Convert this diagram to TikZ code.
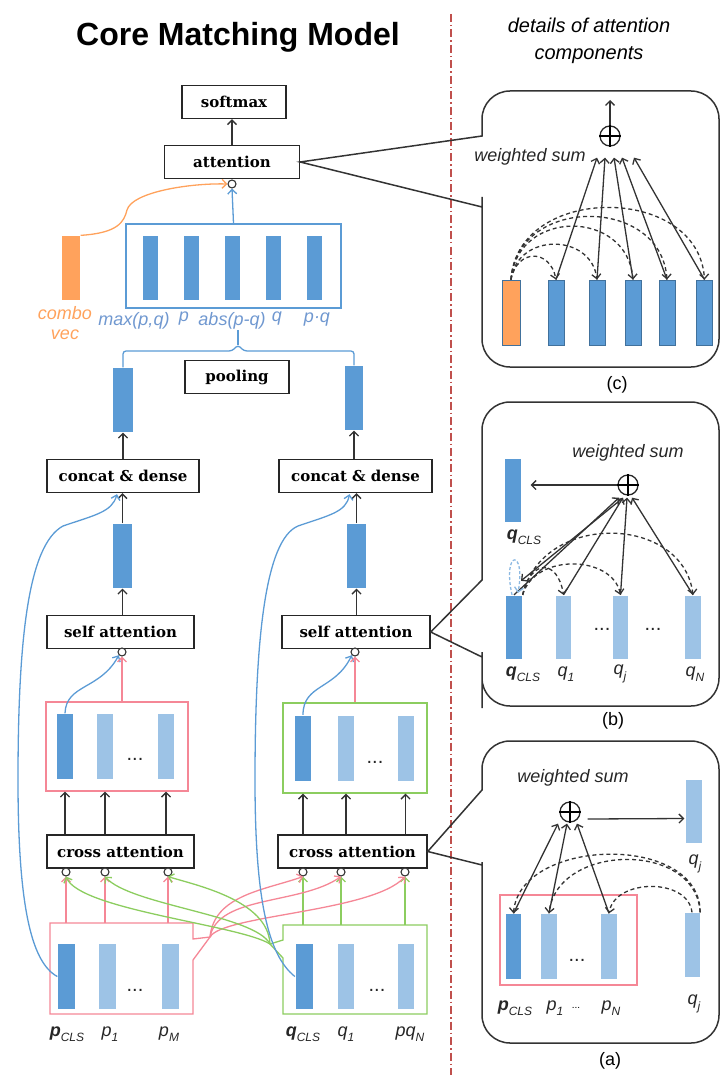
\documentclass[tikz,border=0pt]{standalone}
\usepackage{fontspec}
\newfontfamily\arial{Liberation Sans}
\newfontfamily\boxserif{DejaVu Serif}
\usetikzlibrary{positioning,calc,arrows.meta}

\definecolor{barblue}{RGB}{91,155,213}
\definecolor{barlight}{RGB}{157,195,230}
\definecolor{barline}{RGB}{65,113,156}
\definecolor{combo}{RGB}{255,162,92}
\definecolor{pinkline}{RGB}{245,135,150}
\definecolor{greenline}{RGB}{140,205,95}
\definecolor{blueline}{RGB}{91,155,213}
\definecolor{bluetext}{RGB}{112,152,208}
\definecolor{divider}{RGB}{192,80,77}

\newcommand{\lblfont}{\arial\itshape\fontsize{18}{20}\selectfont}
\newcommand{\subtxt}[1]{\raisebox{-0.3em}{\fontsize{12}{12}\selectfont #1}}

\begin{document}
\begin{tikzpicture}[x=1pt, y=-1pt, line width=1.3pt,
    >={Straight Barb[length=4.5pt,width=9pt]}]
  \tikzstyle{opbox}=[draw=black!85, line width=1.4pt, fill=white,
    minimum height=33pt, inner sep=0pt, font=\boxserif\bfseries\fontsize{15}{17}\selectfont]
  \tikzstyle{vecbar}=[fill=barblue, minimum width=17pt, minimum height=64pt, inner sep=0pt]
  \tikzstyle{lightbar}=[vecbar, fill=barlight]
  \tikzstyle{hub}=[circle, draw=black!80, fill=white, line width=1.1pt,
    minimum size=8pt, inner sep=0pt]
  \tikzstyle{sumnode}=[circle, draw=black!85, minimum size=20pt, inner sep=0pt]
  \tikzstyle{bubble}=[draw=black!80, line width=1.5pt]
  \tikzstyle{arr}=[->, black!80]
  \tikzstyle{darr}=[->, black!80, dash pattern=on 4pt off 3pt]
  \tikzstyle{lbl}=[font=\lblfont, text=black!85]
  \tikzstyle{dots}=[font=\arial\fontsize{20}{20}\selectfont, text=black!85]

  \useasboundingbox (0,0) rectangle (722,1075);

  % titles
  \node[font=\arial\bfseries\fontsize{32}{36}\selectfont, anchor=base] (title)
    at (238,46) {Core Matching Model};
  \node[font=\arial\itshape\fontsize{20}{27}\selectfont, align=center] (dtitle)
    at (589,41) {details of attention\\components};

  % divider
  \draw[divider, line width=1.4pt, dash pattern=on 8pt off 3pt on 1.5pt off 3pt]
    (451,14) -- (451,1075);

  % softmax and attention
  \node[opbox, minimum width=104pt] (soft) at (234,102) {softmax};
  \node[opbox, minimum width=135pt] (att) at (232,162) {attention};
  \node[hub] (atthub) at (232,184) {};
  \draw[arr] (att.north) -- (att.north |- soft.south);

  % feature vectors
  \node[draw=blueline, minimum width=215pt, minimum height=84pt, inner sep=0pt] (feat)
    at (233.5,266) {};
  \foreach \x/\n in {150/1,191/2,232/3,273/4,314/5}
    \node[vecbar, minimum width=15pt] (f\n) at (\x,268) {};
  \begin{scope}[every node/.style={font=\lblfont, text=bluetext}]
    \node (lmax) at (134,321) {max(p,q)};
    \node (lp) at (184,319) {p};
    \node (labs) at (232,321) {abs(p-q)};
    \node (lq) at (277,319) {q};
    \node (lpq) at (317,320) {p·q};
  \end{scope}
  \node[vecbar, fill=combo, minimum width=18pt] (cvec) at (71,268) {};
  \node[font=\lblfont, text=combo, align=center] (cvlab) at (65,323) {combo\\vec};
  \draw[->, blueline] (feat.north) -- (atthub.south);
  \draw[->, combo] (cvec.north east) .. controls (118,233) and (124,222) .. (127,210)
    .. controls (132,192) and (190,183) .. (atthub.west);

  % pooling
  \node[vecbar, minimum width=20pt] (pvec) at (123,400) {};
  \node[vecbar, minimum width=18pt] (qvec) at (354,398) {};
  \node[opbox, minimum width=104pt] (pool) at (237,377) {pooling};
  \draw[blueline, rounded corners=3pt] (pvec.north) |- (232,351) -- (238,345)
    -- (244,351) -| (qvec.north);
  \draw[blueline] (238,345) -- (238,330);

  % concat & dense
  \node[opbox, minimum width=152pt] (pcat) at (123,476) {concat \& dense};
  \node[opbox, minimum width=153pt] (qcat) at (355.5,476) {concat \& dense};
  \draw[arr] (pcat.north) -- (pvec.south);
  \draw[arr] (qvec.south |- qcat.north) -- (qvec.south);
  \node[vecbar, minimum width=19pt] (pmid) at (122.5,556) {};
  \node[vecbar, minimum width=19pt] (qmid) at (356.5,556) {};
  \draw[arr] (pmid.north) -- (pmid.north |- pcat.south);
  \draw[arr] (qmid.north) -- (qmid.north |- qcat.south);

  % self attention
  \node[opbox, minimum width=147pt] (psa) at (120.5,632) {self attention};
  \node[opbox, minimum width=148pt] (qsa) at (356,632) {self attention};
  \draw[arr] (pmid.south |- psa.north) -- (pmid.south);
  \draw[arr] (qmid.south |- qsa.north) -- (qmid.south);
  \node[hub] (psahub) at (122,652) {};
  \node[hub] (qsahub) at (355,652) {};

  % attended vectors
  \node[draw=pinkline, minimum width=142pt, minimum height=89pt, inner sep=0pt] (ppan)
    at (117,746.5) {};
  \node[vecbar, minimum width=16pt, minimum height=65pt] (pc) at (65,746.5) {};
  \node[lightbar, minimum width=16pt, minimum height=65pt] (pa) at (105,746.5) {};
  \node[lightbar, minimum width=16pt, minimum height=65pt] (pb) at (166,746.5) {};
  \node[dots] (pdots) at (135,759) {...};
  \node[draw=greenline, minimum width=144pt, minimum height=90pt, inner sep=0pt] (qpan)
    at (355,748) {};
  \node[vecbar, minimum width=16pt, minimum height=65pt] (qc) at (303,748) {};
  \node[lightbar, minimum width=16pt, minimum height=65pt] (qa) at (346,748) {};
  \node[lightbar, minimum width=16pt, minimum height=65pt] (qb) at (405.5,748) {};
  \node[dots] (qdots) at (375,762) {...};
  \draw[->, blueline] (pc.north) .. controls (66,684) and (100,690) .. (psahub.south west);
  \draw[->, pinkline] (ppan.north -| psahub) -- (psahub.south);
  \draw[->, blueline] (qc.north) .. controls (303,684) and (335,690) .. (qsahub.south west);
  \draw[->, pinkline] (qpan.north -| qsahub) -- (qsahub.south);

  % cross attention
  \node[opbox, minimum width=147pt] (pca) at (120.5,851.5) {cross attention};
  \node[opbox, minimum width=149pt] (qca) at (352.5,851.5) {cross attention};
  \foreach \n in {c,a,b} {
    \draw[arr] (pca.north -| p\n) -- (ppan.south -| p\n);
    \draw[arr] (qca.north -| q\n) -- (qpan.south -| q\n);
  }
  \foreach \x/\n in {66/1,105/2,168/3}
    \node[hub] (ph\n) at (\x,872) {};
  \foreach \x/\n in {303/1,341/2,405/3}
    \node[hub] (qh\n) at (\x,872) {};

  % input vectors
  \coordinate (ptip) at (210,937);
  \coordinate (qtip) at (270,944);
  \coordinate (ptop) at (0,923);
  \coordinate (qtop) at (0,925);
  \draw[pinkline] (50,923) -- (193,923) -- (193,939) -- (ptip) -- (193,960)
    -- (193,1014) -- (50,1014) -- cycle;
  \draw[greenline] (283,925) -- (427,925) -- (427,1014) -- (283,1014) -- (283,958)
    -- (qtip) -- (283,940) -- cycle;
  \node[vecbar, minimum width=17pt, minimum height=65pt] (pcls) at (66.5,976.5) {};
  \node[lightbar, minimum width=17pt, minimum height=65pt] (p1) at (107.5,976.5) {};
  \node[lightbar, minimum width=17pt, minimum height=65pt] (pM) at (170,976.5) {};
  \node[dots] (pidots) at (135,990) {...};
  \node[vecbar, minimum width=17pt, minimum height=65pt] (qcls) at (304,976.5) {};
  \node[lightbar, minimum width=16pt, minimum height=65pt] (q1) at (346,976.5) {};
  \node[lightbar, minimum width=16pt, minimum height=65pt] (qN) at (405.5,976.5) {};
  \node[dots] (qidots) at (377,990) {...};
  \node[lbl] (lpcls) at (67,1034) {\textbf{p}\subtxt{CLS}};
  \node[lbl] (lp1) at (110,1034) {p\subtxt{1}};
  \node[lbl] (lpM) at (169,1034) {p\subtxt{M}};
  \node[lbl] (lqcls) at (303,1034) {\textbf{q}\subtxt{CLS}};
  \node[lbl] (lq1) at (346,1034) {q\subtxt{1}};
  \node[lbl] (lqN) at (410,1034) {pq\subtxt{N}};

  % cross connections
  \foreach \n in {1,2,3} {
    \draw[->, pinkline] (ph\n |- ptop) -- (ph\n.south);
    \draw[->, greenline] (qh\n |- qtop) -- (qh\n.south);
  }
  \draw[->, pinkline] (ptip) .. controls (214,895) and (265,890) .. (qh1.south);
  \draw[->, pinkline] (ptip) .. controls (218,895) and (300,905) .. (qh2.south);
  \draw[->, pinkline] (ptip) .. controls (222,915) and (372,912) .. (qh3.south);
  \draw[->, greenline] (qtip) .. controls (268,900) and (195,885) .. (ph3.south);
  \draw[->, greenline] (qtip) .. controls (255,915) and (130,905) .. (ph2.south);
  \draw[->, greenline] (qtip) .. controls (240,925) and (80,910) .. (ph1.south);

  % skip connections
  \draw[->, blueline] (pcls.west) .. controls (30,962) and (18,900) .. (18,780)
    .. controls (18,640) and (28,545) .. (63,526)
    .. controls (95,515) and (112,512) .. ($(pcat.south)+(-6,1)$);
  \draw[->, blueline] (qcls.west) .. controls (268,955) and (255,900) .. (255,780)
    .. controls (255,640) and (265,540) .. (298,526)
    .. controls (330,515) and (346,512) .. ($(qcat.south)+(-6,1)$);

  % detail (c)
  \draw[bubble] (att.east) -- (482,136) -- (482,120) [rounded corners=28pt] -- (482,91)
    -- (719,91) -- (719,367) -- (482,367) -- (482,225) [sharp corners] -- (482,207) -- cycle;
  \node[sumnode] (csum) at (610,136) {};
  \draw (csum.north) -- (csum.south) (csum.west) -- (csum.east);
  \coordinate (cout) at (610,100);
  \draw[arr] (csum.north) -- (cout);
  \node[lbl] (cws) at (530,157) {weighted sum};
  \node[vecbar, fill=combo, draw=barline, line width=0.8pt, minimum width=18pt,
    minimum height=65pt] (cv0) at (511,312.5) {};
  \foreach \x/\i in {556/1,597/2,633/3,667/4,704.5/5}
    \node[vecbar, draw=barline, line width=0.8pt, minimum width=16pt,
      minimum height=65pt] (cv\i) at (\x,312.5) {};
  \foreach \i/\dx in {1/-13,2/-5,3/4,4/12,5/24}
    \draw[arr] (cv\i.north) -- ($(csum.south)+(\dx,11)$);
  \foreach \i/\h in {1/31,2/47,3/71,4/84,5/96}
    \draw[darr] (cv0.north) .. controls +(6,-\h) and +(-6,-\h) .. (cv\i.north);
  \node[font=\arial\fontsize{18}{20}\selectfont] (clab) at (617,385) {(c)};

  % detail (b)
  \draw[bubble] (qsa.east) -- (482,580) -- (482,560) [rounded corners=28pt] -- (482,402)
    -- (719,402) -- (719,706) -- (482,706) -- (482,680) [sharp corners] -- (482,657) -- cycle;
  \node[vecbar, minimum width=16pt, minimum height=63pt] (bq) at (513,490.5) {};
  \node[lbl] (lbq) at (524,537) {\textbf{q}\subtxt{CLS}};
  \node[sumnode] (bsum) at (628,485) {};
  \draw (bsum.north) -- (bsum.south) (bsum.west) -- (bsum.east);
  \node[lbl] (bws) at (628,453) {weighted sum};
  \draw[arr] (bsum.west) -- ($(bq.east |- bsum.west)+(9,0)$);
  \node[vecbar, minimum width=16pt, minimum height=63pt] (b0) at (514,627) {};
  \node[lightbar, minimum width=15pt, minimum height=63pt] (b1) at (563.5,627) {};
  \node[lightbar, minimum width=15pt, minimum height=63pt] (bj) at (620.5,627) {};
  \node[lightbar, minimum width=16pt, minimum height=63pt] (bN) at (693,627) {};
  \node[dots] (bdots1) at (602,629) {...};
  \node[dots] (bdots2) at (653,629) {...};
  \node[lbl] (lb0) at (523,674) {\textbf{q}\subtxt{CLS}};
  \node[lbl] (lb1) at (566,674) {q\subtxt{1}};
  \node[lbl] (lbj) at (620,674) {q\subtxt{j}};
  \node[lbl] (lbN) at (695,674) {q\subtxt{N}};
  \foreach \n/\dx in {0/-9,1/-5,j/-1,N/4}
    \draw[arr] (b\n.north) -- ($(bsum.south)+(\dx,2)$);
  \draw[arr] ($(bsum.south)+(-6,3)$) -- ($(b0.north)+(7,-14)$);
  \draw[darr] (b0.north east) .. controls +(8,-36) and +(-6,-36) .. (b1.north);
  \draw[darr] (b0.north east) .. controls +(12,-42) and +(-8,-40) .. (bj.north);
  \draw[darr] (b0.north east) .. controls +(20,-84) and +(-10,-80) .. (bN.north);
  \draw[->, blueline!70, dash pattern=on 3pt off 2pt] ($(b0.north)+(-2,0)$)
    .. controls +(-10,-45) and +(8,-45) .. ($(b0.north)+(4,-2)$);
  \node[font=\arial\fontsize{18}{20}\selectfont] (blab) at (613,721) {(b)};

  % detail (a)
  \draw[bubble] (qca.east) -- (482,790) -- (482,770) [rounded corners=28pt] -- (482,741)
    -- (719,741) -- (719,1043) -- (482,1043) -- (482,890) [sharp corners] -- (482,865) -- cycle;
  \node[lbl] (aws) at (573,778) {weighted sum};
  \node[sumnode] (asum) at (570,812) {};
  \draw (asum.north) -- (asum.south) (asum.west) -- (asum.east);
  \node[lightbar, minimum width=16pt, minimum height=63pt] (aqt) at (694,811.5) {};
  \node[lbl] (laqt) at (695,864) {q\subtxt{j}};
  \draw[arr] ($(asum.east)+(7,7)$) -- ($(aqt.west)+(-1,7)$);
  \node[draw=pinkline, minimum width=137pt, minimum height=90pt, inner sep=0pt] (apan)
    at (568.5,940) {};
  \node[vecbar, minimum width=15pt, minimum height=65pt] (a0) at (513.5,946.5) {};
  \node[lightbar, minimum width=16pt, minimum height=65pt] (a1) at (549,946.5) {};
  \node[lightbar, minimum width=16pt, minimum height=65pt] (aN) at (609,946.5) {};
  \node[dots] (adots) at (577,960) {...};
  \node[lightbar, minimum width=15pt, minimum height=64pt] (aqb) at (692,945) {};
  \node[lbl] (la0) at (515,1008) {\textbf{p}\subtxt{CLS}};
  \node[lbl] (la1) at (555,1008) {p\subtxt{1}};
  \node[font=\arial\fontsize{10}{10}\selectfont] (ladots) at (576,1008) {...};
  \node[lbl] (laN) at (611,1008) {p\subtxt{N}};
  \node[lbl] (laqb) at (694,1004) {q\subtxt{j}};
  \foreach \n/\dx in {0/-12,1/-3,N/7}
    \draw[arr] (a\n.north) -- ($(asum.south)+(\dx,1)$);
  \draw[darr] (aqb.north) .. controls +(-4,-35) and +(6,-35) .. (aN.north);
  \draw[darr] (aqb.north east) .. controls +(-4,-72) and +(8,-70) .. (a1.north);
  \draw[darr] (aqb.north east) .. controls +(0,-80) and +(6,-76) .. (a0.north);
  \node[font=\arial\fontsize{18}{20}\selectfont] (alab) at (610,1061) {(a)};
\end{tikzpicture}
\end{document}
